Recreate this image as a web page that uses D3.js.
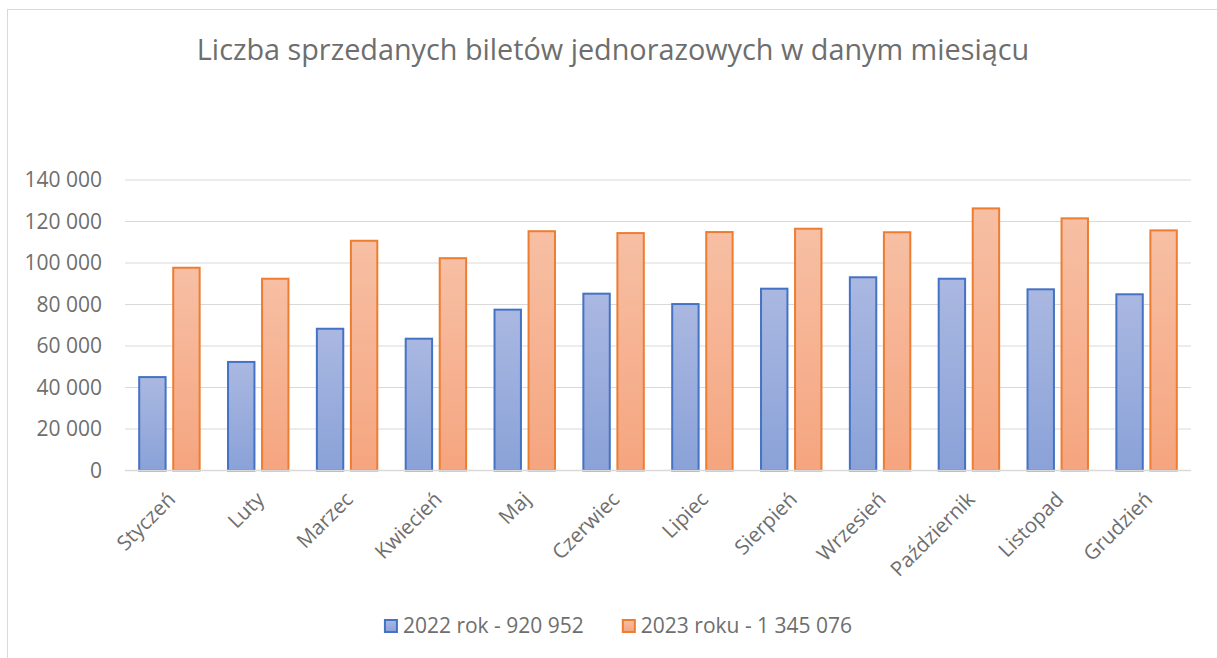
<!DOCTYPE html>
<html>
<head>
<meta charset="utf-8">
<script src="https://cdn.jsdelivr.net/npm/d3@7"></script>
<style>
  html, body { margin: 0; padding: 0; background: #fff; }
  svg { display: block; font-family: "Open Sans", sans-serif; }
</style>
</head>
<body>
<div id="chart"></div>
<script>
const months = ["Styczeń", "Luty", "Marzec", "Kwiecień", "Maj", "Czerwiec", "Lipiec",
  "Sierpień", "Wrzesień", "Październik", "Listopad", "Grudzień"];
const sales2022 = [45500, 52800, 68800, 64000, 78000, 85700, 80700, 88100, 93600, 92900, 87800, 85400];
const sales2023 = [98200, 92900, 111200, 102800, 115800, 114900, 115400, 117000, 115300, 126800, 122000, 116200];
const seriesNames = ["2022 rok - 920 952", "2023 roku - 1 345 076"];
const yTicks = [0, 20000, 40000, 60000, 80000, 100000, 120000, 140000];

const width = 1217;
const height = 658;
const margin = { top: 180, right: 26, bottom: 187.5, left: 125 };
const textColor = "#6e6e6e";

const series = [
  { key: "a", name: seriesNames[0], values: sales2022, stroke: "#4472c4", top: "#aab8e1", bottom: "#8aa2d8" },
  { key: "b", name: seriesNames[1], values: sales2023, stroke: "#ed7d31", top: "#f7bfa4", bottom: "#f5a57f" }
];

const svg = d3.select("#chart")
  .append("svg")
  .attr("width", width)
  .attr("height", height);

// chart frame (the picture is cropped on the right and bottom)
svg.append("rect")
  .attr("x", 7.5)
  .attr("y", 9.5)
  .attr("width", width + 20)
  .attr("height", height + 20)
  .attr("fill", "#fff")
  .attr("stroke", "#d9d9d9")
  .attr("stroke-width", 1);

const defs = svg.append("defs");
series.forEach((s) => {
  const g = defs.append("linearGradient")
    .attr("id", "grad-" + s.key)
    .attr("x1", "0").attr("y1", "0").attr("x2", "0").attr("y2", "1");
  g.append("stop").attr("offset", "0%").attr("stop-color", s.top);
  g.append("stop").attr("offset", "100%").attr("stop-color", s.bottom);
});

const x0 = d3.scaleBand()
  .domain(months)
  .range([margin.left, width - margin.right])
  .paddingInner(0.297)
  .paddingOuter(0.1485);

const x1 = d3.scaleBand()
  .domain(series.map((s) => s.key))
  .range([0, x0.bandwidth()])
  .paddingInner(0.165);

const y = d3.scaleLinear()
  .domain([0, 140000])
  .range([height - margin.bottom, margin.top]);

// title
svg.append("text")
  .attr("x", 613)
  .attr("y", 60)
  .attr("text-anchor", "middle")
  .style("font-size", "28.8px")
  .style("fill", textColor)
  .text("Liczba sprzedanych biletów jednorazowych w danym miesiącu");

// gridlines
svg.append("g")
  .selectAll("line")
  .data(yTicks.filter((d) => d > 0))
  .join("line")
  .attr("x1", margin.left)
  .attr("x2", width - margin.right)
  .attr("y1", (d) => y(d))
  .attr("y2", (d) => y(d))
  .attr("stroke", "#d9d9d9")
  .attr("stroke-width", 1.2);

// y axis labels
const fmt = (v) => d3.format(",")(v).replace(/,/g, " ");
const yAxis = svg.append("g")
  .attr("transform", `translate(${margin.left},0)`)
  .call(d3.axisLeft(y).tickValues(yTicks).tickFormat(fmt).tickSize(0).tickPadding(23));
yAxis.select(".domain").remove();
yAxis.selectAll("text")
  .style("font-family", "Open Sans, sans-serif")
  .style("font-size", "21px")
  .style("fill", textColor);

// bars
const groups = svg.append("g")
  .selectAll("g")
  .data(months)
  .join("g")
  .attr("transform", (d) => `translate(${x0(d)},0)`);

groups.selectAll("rect")
  .data((d, i) => series.map((s) => ({ s, v: s.values[i] })))
  .join("rect")
  .attr("x", (d) => x1(d.s.key) + 1)
  .attr("width", x1.bandwidth() - 2)
  .attr("y", (d) => y(d.v) + 1)
  .attr("height", (d) => y(0) - y(d.v) - 1)
  .attr("fill", (d) => `url(#grad-${d.s.key})`)
  .attr("stroke", (d) => d.s.stroke)
  .attr("stroke-width", 2);

// baseline
svg.append("line")
  .attr("x1", margin.left)
  .attr("x2", width - margin.right)
  .attr("y1", y(0))
  .attr("y2", y(0))
  .attr("stroke", "#d9d9d9")
  .attr("stroke-width", 1.5);

// x axis labels, rotated
svg.append("g")
  .selectAll("text")
  .data(months)
  .join("text")
  .attr("transform", (d) => `translate(${x0(d) + x0.bandwidth() / 2 - 3},${y(0) + 20}) rotate(-45)`)
  .attr("text-anchor", "end")
  .attr("dy", "0.7em")
  .style("font-size", "20.5px")
  .style("fill", textColor)
  .text((d) => d);

// legend
const legend = svg.append("g");
let lx = 0;
series.forEach((s, i) => {
  const item = legend.append("g").attr("transform", `translate(${lx},0)`);
  item.append("rect")
    .attr("x", 1).attr("y", -6)
    .attr("width", 12).attr("height", 12)
    .attr("fill", `url(#grad-${s.key})`)
    .attr("stroke", s.stroke)
    .attr("stroke-width", 2);
  const t = item.append("text")
    .attr("x", 19)
    .attr("dy", "0.35em")
    .style("font-size", "21px")
    .style("fill", textColor)
    .text(s.name);
  lx += 19 + t.node().getComputedTextLength() + 38;
});
const legendW = lx - 38;
legend.attr("transform", `translate(${(383 + 853) / 2 - legendW / 2},626)`);
</script>
</body>
</html>
